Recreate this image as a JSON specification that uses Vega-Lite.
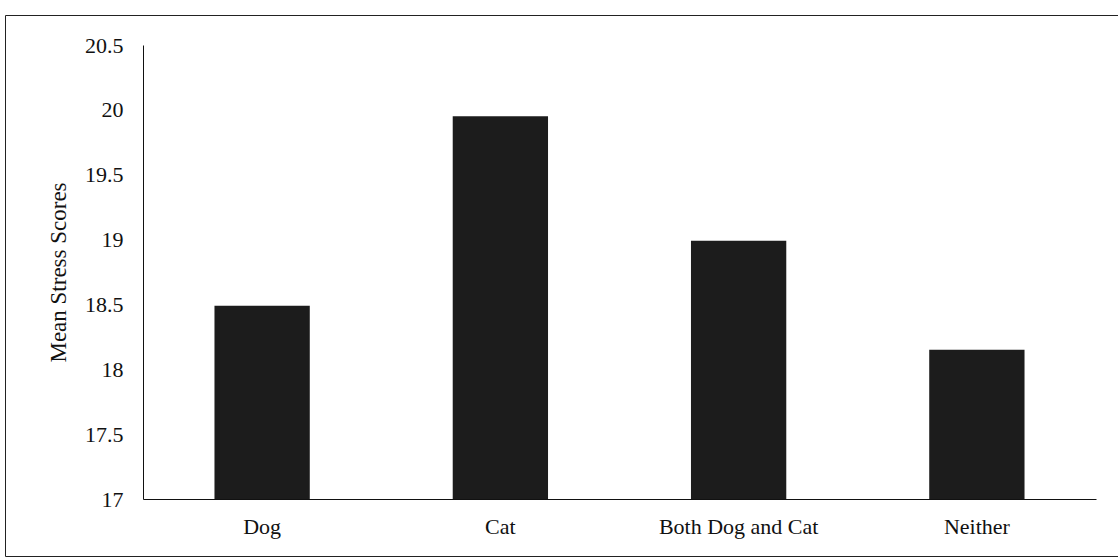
{
  "$schema": "https://vega.github.io/schema/vega-lite/v6.json",
  "width": 1113,
  "height": 541,
  "padding": {"left": 5, "top": 15, "right": 0, "bottom": 3},
  "autosize": {"type": "none"},
  "background": "white",
  "config": {
    "view": {"stroke": "#222222", "strokeWidth": 1},
    "font": "Times New Roman"
  },
  "data": {
    "values": [
      {"group": "Dog", "score": 18.49},
      {"group": "Cat", "score": 19.95},
      {"group": "Both Dog and Cat", "score": 18.99},
      {"group": "Neither", "score": 18.15}
    ]
  },
  "mark": {"type": "bar", "color": "#1c1c1c", "clip": false},
  "encoding": {
    "x": {
      "field": "group",
      "type": "nominal",
      "sort": null,
      "scale": {"range": [138, 1091], "paddingInner": 0.6, "paddingOuter": 0.3},
      "axis": {
        "title": null,
        "labelAngle": 0,
        "ticks": false,
        "domainColor": "#111111",
        "labelFont": "Times New Roman",
        "labelFontSize": 22,
        "labelColor": "#111111",
        "labelPadding": 17,
        "offset": -57
      }
    },
    "y": {
      "field": "score",
      "type": "quantitative",
      "scale": {"domain": [17, 20.5], "range": [484, 30], "zero": false, "nice": false, "clamp": true},
      "axis": {
        "title": "Mean Stress Scores",
        "values": [17, 17.5, 18, 18.5, 19, 19.5, 20, 20.5],
        "format": "~g",
        "grid": false,
        "ticks": false,
        "domainColor": "#111111",
        "offset": -138,
        "labelFont": "Times New Roman",
        "labelFontSize": 22,
        "labelColor": "#111111",
        "labelPadding": 20,
        "titleFont": "Times New Roman",
        "titleFontSize": 23,
        "titleFontWeight": "normal",
        "titleColor": "#111111",
        "titlePadding": 14
      }
    },
    "y2": {"datum": 17}
  }
}
